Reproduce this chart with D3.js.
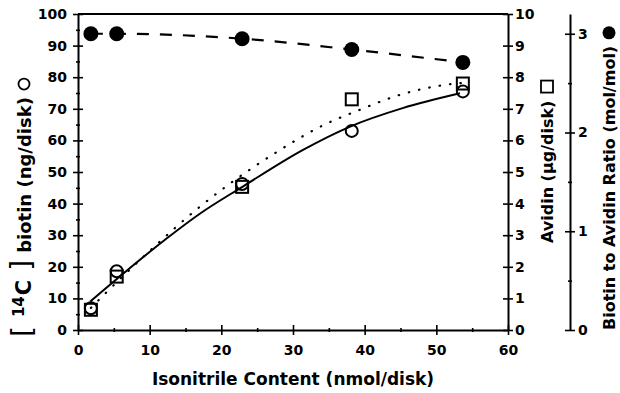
<!DOCTYPE html>
<html lang="en">
<head>
<meta charset="UTF-8">
<title>Isonitrile content chart</title>
<style>
  body { margin: 0; background: #fff; }
  svg text { font-family: "DejaVu Sans", sans-serif; font-weight: bold; fill: #000; }
</style>
</head>
<body>
<script src="https://cdn.jsdelivr.net/npm/d3@7"></script>
<script>
// data
var isonitrile = [1.8, 5.4, 22.9, 38.2, 53.7];           // nmol/disk
var biotin = [6.9, 18.6, 46.2, 63.0, 75.5];             // ng/disk (open circles)
var avidin = [0.64, 1.69, 4.53, 7.3, 7.8];              // ug/disk (open squares)
var ratio = [3.0, 3.0, 2.95, 2.84, 2.71];               // mol/mol (filled circles)

// fitted curves as drawn in the figure
var biotinFitX = [1.7, 12.1, 17, 23, 31.4, 37.9, 45.3, 53.3];
var biotinFitY = [9.0, 28.5, 36.8, 45.4, 57.0, 64.3, 70.2, 74.9];
var avidinFitX = [1.8, 4, 10, 17, 21, 27.5, 34.4, 38.9, 44.9, 51, 53.7];
var avidinFitY = [0.7, 1.2, 2.5, 3.9, 4.6, 5.6, 6.5, 6.93, 7.44, 7.75, 7.82];

var xTicks = [0, 10, 20, 30, 40, 50, 60];
var leftTicks = [0, 10, 20, 30, 40, 50, 60, 70, 80, 90, 100];
var avidinTicks = [0, 1, 2, 3, 4, 5, 6, 7, 8, 9, 10];
var ratioTicks = [0, 1, 2, 3];

var w = 620, h = 393;
var svg = d3.select("body").append("svg").attr("width", w).attr("height", h);

var x = d3.scaleLinear().domain([0, 60]).range([78, 508]);
var yL = d3.scaleLinear().domain([0, 100]).range([330, 14]);
var yA = d3.scaleLinear().domain([0, 10]).range([330, 14]);
var yR = d3.scaleLinear().domain([0, 3.2]).range([330, 14]);

function styleAxis(g, crossX) {
    g.select(".domain").attr("stroke-width", 2);
    g.selectAll(".tick line").attr("stroke-width", 1.6);
    if (crossX) g.selectAll(".tick line").attr("x1", -5).attr("x2", 5);
    else g.selectAll(".tick line").attr("y1", -5).attr("y2", 5);
    g.selectAll("text").attr("font-size", 14).attr("font-family", null);
}
function minor(g, crossX, n) {
    g.selectAll(".tick line").attr("stroke-width", 1.6);
    if (crossX) g.selectAll(".tick line").attr("x1", -n).attr("x2", n);
    else g.selectAll(".tick line").attr("y1", -n).attr("y2", n);
    g.select(".domain").remove();
}

// top frame line
svg.append("line")
    .attr("x1", x(0)).attr("x2", x(60))
    .attr("y1", yL(100)).attr("y2", yL(100))
    .attr("stroke", "#000").attr("stroke-width", 2);

// minor ticks
svg.append("g").attr("transform", "translate(0,330)")
    .call(d3.axisBottom(x).tickValues([5, 15, 25, 35, 45, 55]).tickFormat("").tickSize(0))
    .call(minor, false, 2);
svg.append("g").attr("transform", "translate(78,0)")
    .call(d3.axisLeft(yL).tickValues([5, 15, 25, 35, 45, 55, 65, 75, 85, 95]).tickFormat("").tickSize(0))
    .call(minor, true, 2);
svg.append("g").attr("transform", "translate(570,0)")
    .call(d3.axisRight(yR).tickValues([0.5, 1.5, 2.5]).tickFormat("").tickSize(0))
    .call(minor, true, 2);

// main axes
svg.append("g").attr("transform", "translate(0,330)")
    .call(d3.axisBottom(x).tickValues(xTicks).tickSize(5).tickSizeOuter(0).tickPadding(10))
    .call(styleAxis, false);
svg.append("g").attr("transform", "translate(78,0)")
    .call(d3.axisLeft(yL).tickValues(leftTicks).tickSize(5).tickSizeOuter(0).tickPadding(6))
    .call(styleAxis, true);
svg.append("g").attr("transform", "translate(508,0)")
    .call(d3.axisRight(yA).tickValues(avidinTicks).tickSize(5).tickSizeOuter(0).tickPadding(2))
    .call(styleAxis, true);
svg.append("g").attr("transform", "translate(570,0)")
    .call(d3.axisRight(yR).tickValues(ratioTicks).tickFormat(d3.format("d"))
        .tickSize(5).tickSizeOuter(0).tickPadding(3))
    .call(styleAxis, true);

// curves
var biotinFit = biotinFitX.map(function(d, i) { return [d, biotinFitY[i]]; });
var avidinFit = avidinFitX.map(function(d, i) { return [d, avidinFitY[i]]; });
var ratioPts = isonitrile.map(function(d, i) { return [d, ratio[i]]; });

svg.append("path")
    .attr("d", d3.line().x(function(d) { return x(d[0]); }).y(function(d) { return yL(d[1]); })
        .curve(d3.curveMonotoneX)(biotinFit))
    .attr("fill", "none").attr("stroke", "#000").attr("stroke-width", 2);

svg.append("path")
    .attr("d", d3.line().x(function(d) { return x(d[0]); }).y(function(d) { return yA(d[1]); })
        .curve(d3.curveMonotoneX)(avidinFit))
    .attr("fill", "none").attr("stroke", "#000").attr("stroke-width", 2.2)
    .attr("stroke-linecap", "round").attr("stroke-dasharray", "0.5,10");

svg.append("path")
    .attr("d", d3.line().x(function(d) { return x(d[0]); }).y(function(d) { return yR(d[1]); })
        .curve(d3.curveMonotoneX)(ratioPts))
    .attr("fill", "none").attr("stroke", "#000").attr("stroke-width", 2.2)
    .attr("stroke-dasharray", "12,11");

// markers
svg.selectAll("rect.avidin")
    .data(avidin)
    .enter()
    .append("rect")
    .attr("class", "avidin")
    .attr("x", function(d, i) { return x(isonitrile[i]) - 6; })
    .attr("y", function(d) { return yA(d) - 6; })
    .attr("width", 12).attr("height", 12)
    .attr("fill", "none").attr("stroke", "#000").attr("stroke-width", 2);

svg.selectAll("circle.biotin")
    .data(biotin)
    .enter()
    .append("circle")
    .attr("class", "biotin")
    .attr("cx", function(d, i) { return x(isonitrile[i]); })
    .attr("cy", function(d) { return yL(d); })
    .attr("r", 6)
    .attr("fill", "none").attr("stroke", "#000").attr("stroke-width", 2);

svg.selectAll("circle.ratio")
    .data(ratio)
    .enter()
    .append("circle")
    .attr("class", "ratio")
    .attr("cx", function(d, i) { return x(isonitrile[i]); })
    .attr("cy", function(d) { return yR(d); })
    .attr("r", 7.5)
    .attr("fill", "#000");

// axis titles
svg.append("text")
    .attr("x", 293).attr("y", 385)
    .attr("text-anchor", "middle").attr("font-size", 17)
    .text("Isonitrile Content (nmol/disk)");

// left title: [14C]biotin (ng/disk) with open circle
var lt = svg.append("text")
    .attr("transform", "translate(31,337) rotate(-90)")
    .attr("font-size", 18);
lt.append("tspan").attr("font-size", 28).attr("font-weight", "normal").attr("dy", 1).text("[");
lt.append("tspan").attr("font-size", 15).attr("dx", 9).attr("dy", -8).text("14");
lt.append("tspan").attr("font-size", 21).attr("dy", 7).attr("dx", 1).text("C");
lt.append("tspan").attr("font-size", 28).attr("font-weight", "normal").attr("dx", 9).text("]");
lt.append("tspan").attr("dx", 7).text("biotin (ng/disk)");
var lbox = lt.node().getBBox();
svg.append("circle")
    .attr("cx", 24).attr("cy", 337 - (lbox.x + lbox.width) - 13)
    .attr("r", 5.5).attr("fill", "none").attr("stroke", "#000").attr("stroke-width", 1.8);

var at = svg.append("text")
    .attr("transform", "translate(553,243) rotate(-90)")
    .attr("font-size", 16)
    .text("Avidin (\u00b5g/disk)");
var atLen = at.node().getComputedTextLength();
svg.append("rect")
    .attr("x", 541).attr("y", 243 - atLen - 20)
    .attr("width", 12).attr("height", 12)
    .attr("fill", "none").attr("stroke", "#000").attr("stroke-width", 1.8);

var rt = svg.append("text")
    .attr("transform", "translate(615,330) rotate(-90)")
    .attr("font-size", 16)
    .text("Biotin to Avidin Ratio (mol/mol)");
var rtLen = rt.node().getComputedTextLength();
svg.append("circle")
    .attr("cx", 609).attr("cy", 330 - rtLen - 13)
    .attr("r", 6.5).attr("fill", "#000");
</script>
</body>
</html>
